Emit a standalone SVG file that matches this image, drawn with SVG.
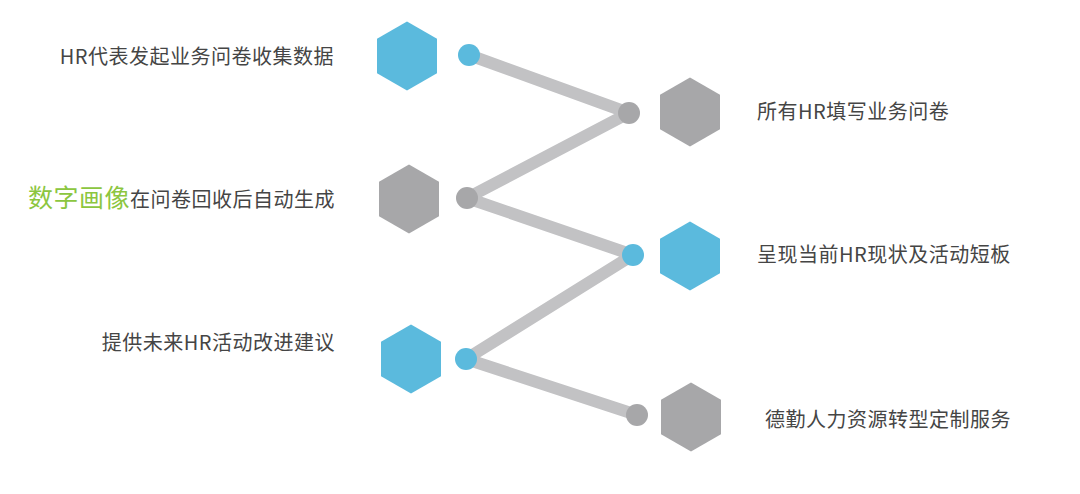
<svg xmlns="http://www.w3.org/2000/svg" width="1080" height="494" viewBox="0 0 1080 494">
<defs>
<style>
.blue{fill:#5bbadd}
.gray{fill:#a7a7a9}
.lbl{font-family:"Noto Sans CJK SC","Liberation Sans",sans-serif;font-size:20px;fill:#454545;letter-spacing:0.5px}
.em{font-size:25px;fill:#8cc63f}
.conn{fill:none;stroke:#c2c2c4;stroke-width:12;stroke-linejoin:round}
</style>
<polygon id="hex" points="0,-34.5 30,-17.25 30,17.25 0,34.5 -30,17.25 -30,-17.25"/>
</defs>
<rect width="1080" height="494" fill="#ffffff"/>
<g id="connectors">
<polyline class="conn" points="469,55 629,113 467,198 633,255 466,359 637,415"/>
</g>
<g id="n1"><use href="#hex" class="blue" x="407" y="56"/><circle class="blue" cx="469" cy="55" r="11"/><text class="lbl" x="334" y="64" text-anchor="end">HR代表发起业务问卷收集数据</text></g>
<g id="n2"><use href="#hex" class="gray" x="690" y="112"/><circle class="gray" cx="629" cy="113" r="11"/><text class="lbl" x="757" y="119">所有HR填写业务问卷</text></g>
<g id="n3"><use href="#hex" class="gray" x="409" y="199"/><circle class="gray" cx="467" cy="198" r="11"/><text class="lbl" x="335" y="207" text-anchor="end"><tspan class="em">数字画像</tspan>在问卷回收后自动生成</text></g>
<g id="n4"><use href="#hex" class="blue" x="690" y="256"/><circle class="blue" cx="633" cy="255" r="11"/><text class="lbl" x="757" y="262">呈现当前HR现状及活动短板</text></g>
<g id="n5"><use href="#hex" class="blue" x="411" y="359"/><circle class="blue" cx="466" cy="359" r="11"/><text class="lbl" x="335" y="350" text-anchor="end">提供未来HR活动改进建议</text></g>
<g id="n6"><use href="#hex" class="gray" x="691" y="417"/><circle class="gray" cx="637" cy="415" r="11"/><text class="lbl" x="765" y="427">德勤人力资源转型定制服务</text></g>
</svg>
